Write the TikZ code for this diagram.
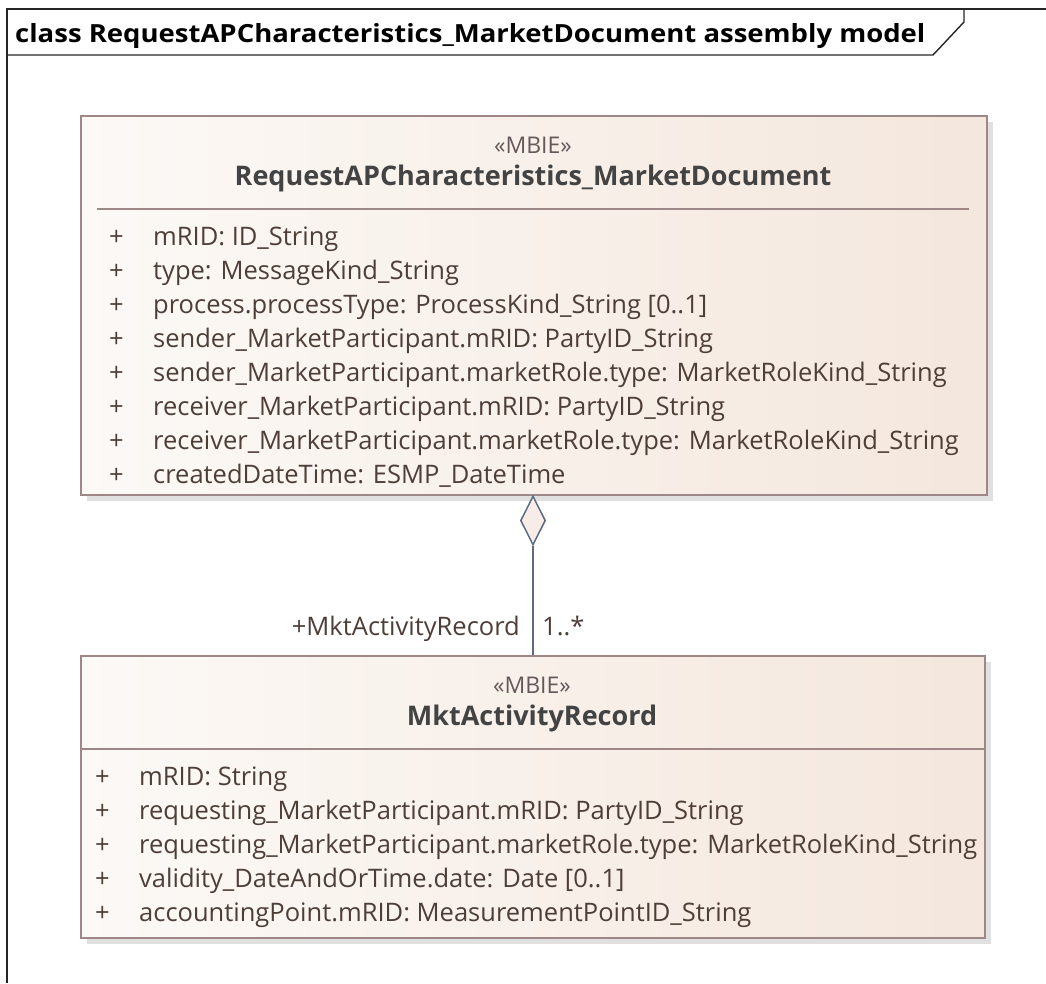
\documentclass[tikz,border=0pt]{standalone}
\usepackage{fontspec}
\setmainfont{Open Sans}
\newfontfamily\titlefont[FakeStretch=1.1]{Open Sans}
\usepackage{xcolor}
\usetikzlibrary{positioning,shapes.geometric,shadows}

\definecolor{boxline}{HTML}{9E8787}
\definecolor{boxleft}{HTML}{FCF9F6}
\definecolor{boxright}{HTML}{F4E7DD}
\definecolor{attrtext}{HTML}{4E3E38}
\definecolor{stereotext}{HTML}{66585A}
\definecolor{nametext}{HTML}{434343}
\definecolor{assoc}{HTML}{5D6A82}
\definecolor{diafill}{HTML}{F7ECE8}
\newcommand{\vis}{\makebox[44pt][l]{+}}

\begin{document}
\begin{tikzpicture}[
      x=1pt, y=-1pt,
      every node/.style={font=\fontsize{25.5}{30}\selectfont, text=attrtext},
      umlclass/.style={
        draw=boxline, line width=1.6pt, anchor=north west, inner sep=0,
        left color=boxleft, right color=boxright,
        drop shadow={shadow xshift=6pt, shadow yshift=-6pt, fill=black!24}
      },
      stereo/.style={inner sep=0, anchor=base, font=\fontsize{23}{27}\selectfont, text=stereotext},
      cname/.style={inner sep=0, anchor=base, font=\fontsize{27}{32}\selectfont\bfseries, text=nametext},
      attr/.style={inner sep=0, anchor=north west, text height=23.7pt, text depth=10pt},
      sep/.style={draw=boxline, line width=1.4pt},
      frame/.style={draw=black!85, line width=1.4pt},
      aggr/.style={
        diamond, draw=assoc, fill=diafill, line width=1.5pt, inner sep=0,
        minimum width=25pt, minimum height=49pt
      },
      assocline/.style={draw=assoc, line width=1.5pt}
    ]
    \useasboundingbox (0,0) rectangle (1046,983);

    % diagram frame
    \draw[frame] (7,983) -- (7,9) -- (1046,9);
    \draw[frame] (7,55) -- (933,55) -- (964,22) -- (964,9);
    \node[anchor=base west, inner sep=0, text=black,
          font=\titlefont\fontsize{25}{30}\selectfont\bfseries] (title) at (15,42)
      {class RequestAPCharacteristics\_MarketDocument assembly model};

    % RequestAPCharacteristics_MarketDocument
    \node[umlclass, minimum width=906pt, minimum height=379pt] (doc) at (80,115) {};
    \node[stereo] (docst) at (533,153) {«MBIE»};
    \node[cname] (docname) at (533,185) {RequestAPCharacteristics\_MarketDocument};
    \draw[sep] (97,209) -- (969,209);
    \node[attr] (d1) at (109,221.3) {\vis mRID: ID\_String};
    \node[attr, below=0pt of d1.south west, anchor=north west] (d2) {\vis type: MessageKind\_String};
    \node[attr, below=0pt of d2.south west, anchor=north west] (d3) {\vis process.processType: ProcessKind\_String [0..1]};
    \node[attr, below=0pt of d3.south west, anchor=north west] (d4) {\vis sender\_MarketParticipant.mRID: PartyID\_String};
    \node[attr, below=0pt of d4.south west, anchor=north west] (d5) {\vis sender\_MarketParticipant.marketRole.type: MarketRoleKind\_String};
    \node[attr, below=0pt of d5.south west, anchor=north west] (d6) {\vis receiver\_MarketParticipant.mRID: PartyID\_String};
    \node[attr, below=0pt of d6.south west, anchor=north west] (d7) {\vis receiver\_MarketParticipant.marketRole.type: MarketRoleKind\_String};
    \node[attr, below=0pt of d7.south west, anchor=north west] (d8) {\vis createdDateTime: ESMP\_DateTime};

    % MktActivityRecord
    \node[umlclass, minimum width=904pt, minimum height=282pt] (rec) at (80,655) {};
    \node[stereo] (recst) at (532,693) {«MBIE»};
    \node[cname] (recname) at (532,725) {MktActivityRecord};
    \draw[sep] (80,749) -- (984,749);
    \node[attr] (r1) at (95,761.3) {\vis mRID: String};
    \node[attr, below=0pt of r1.south west, anchor=north west] (r2) {\vis requesting\_MarketParticipant.mRID: PartyID\_String};
    \node[attr, below=0pt of r2.south west, anchor=north west] (r3) {\vis requesting\_MarketParticipant.marketRole.type: MarketRoleKind\_String};
    \node[attr, below=0pt of r3.south west, anchor=north west] (r4) {\vis validity\_DateAndOrTime.date: Date [0..1]};
    \node[attr, below=0pt of r4.south west, anchor=north west] (r5) {\vis accountingPoint.mRID: MeasurementPointID\_String};

    % aggregation
    \node[aggr] (agg) at (533,520.5) {};
    \coordinate (join) at (agg.south |- rec.north);
    \draw[assocline] (agg.south) -- (join);
    \node[anchor=base east, inner sep=0] (role) at ([xshift=-13pt, yshift=20pt]join) {+MktActivityRecord};
    \node[anchor=base west, inner sep=0] (mult) at ([xshift=9pt, yshift=20pt]join) {1..*};
  \end{tikzpicture}
\end{document}
